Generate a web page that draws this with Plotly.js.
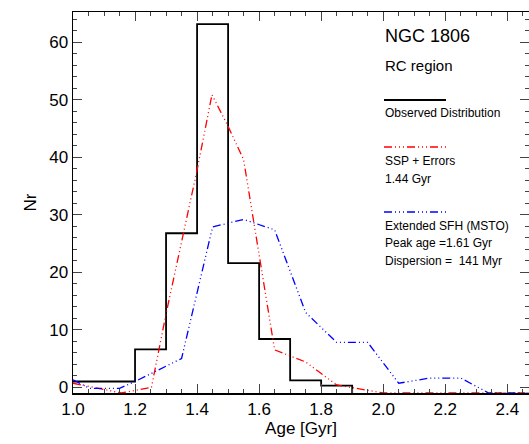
<!DOCTYPE html>
<html><head><script src="https://cdn.plot.ly/plotly-3.0.1.min.js"></script>
<style>body{margin:0}</style></head><body><div id="c" style="width:529px;height:444px"></div>
<script>
const histEdges=[1.0,1.2,1.3,1.4,1.5,1.6,1.7,1.8,1.9];
const histCounts=[1,6.6,26.8,63.2,21.6,8.4,1.2,0.3];
const sspX=[1.0,1.156,1.253,1.3,1.4,1.448,1.5,1.55,1.65,1.75,1.85,1.95,2.0,2.47];
const sspY=[0.7,-1,0,12.8,37.8,50.9,45.4,39.6,6.5,4.4,0.4,-0.5,-1,-1];
const sfhX=[1.0,1.054,1.15,1.2,1.35,1.4,1.45,1.55,1.65,1.75,1.85,1.95,2.05,2.15,2.25,2.34,2.47];
const sfhY=[1.3,-0.2,-0.2,1,5,16.3,27.9,29.2,27.4,13,7.8,7.8,0.7,1.6,1.6,-1,-1];
const hx=[],hy=[];
for(let i=0;i<histCounts.length;i++){hx.push(histEdges[i],histEdges[i+1]);hy.push(histCounts[i],histCounts[i]);}
hx.push(histEdges[histEdges.length-1]);hy.push(-1);
const traces=[
{x:hx,y:hy,mode:'lines',line:{color:'black',width:1.8},hoverinfo:'skip'},
{x:sspX,y:sspY,mode:'lines',line:{color:'red',width:1.3,dash:'8px,3px,1px,3px,1px,3px,1px,3px'}},
{x:sfhX,y:sfhY,mode:'lines',line:{color:'blue',width:1.3,dash:'8px,3px,1px,3px,1px,3px,1px,3px'}}
];
const F='Liberation Sans, Arial, sans-serif';
const ann=(t,y,s)=>({xref:'paper',yref:'paper',x:(383-73)/456,y:(393-y)/381,text:t,showarrow:false,xanchor:'left',yanchor:'middle',font:{family:F,size:s,color:'black'}});
const layout={width:529,height:444,margin:{l:73,r:0,t:12,b:51},showlegend:false,
plot_bgcolor:'white',paper_bgcolor:'white',font:{family:F,color:'black'},
xaxis:{range:[1.0,2.47],dtick:0.2,tickformat:'.1f',ticks:'inside',ticklen:9,mirror:'ticks',showline:true,linecolor:'black',linewidth:1.5,showgrid:false,zeroline:false,tickfont:{size:17},
 minor:{dtick:0.05,ticks:'inside',ticklen:4,showgrid:false},title:{text:'Age [Gyr]',font:{size:17},standoff:4}},
yaxis:{range:[-1,65.3],dtick:10,ticks:'inside',ticklen:9,mirror:'ticks',showline:true,linecolor:'black',linewidth:1.5,showgrid:false,zeroline:false,tickfont:{size:17},
 minor:{dtick:2,ticks:'inside',ticklen:4,showgrid:false},title:{text:'Nr',font:{size:17},standoff:8}},
shapes:[
{type:'line',xref:'paper',yref:'paper',x0:(384-73)/456,x1:(446-73)/456,y0:(393-100)/381,y1:(393-100)/381,line:{color:'black',width:2}},
{type:'line',xref:'paper',yref:'paper',x0:(384-73)/456,x1:(446-73)/456,y0:(393-147)/381,y1:(393-147)/381,line:{color:'red',width:1.3,dash:'8px,3px,1px,3px,1px,3px,1px,3px'}},
{type:'line',xref:'paper',yref:'paper',x0:(384-73)/456,x1:(446-73)/456,y0:(393-212)/381,y1:(393-212)/381,line:{color:'blue',width:1.3,dash:'8px,3px,1px,3px,1px,3px,1px,3px'}}
],
annotations:[ann('NGC 1806',36,18),ann('RC region',66,15),ann('Observed Distribution',113,12),
ann('SSP + Errors',161,12),ann('1.44 Gyr',179,12),ann('Extended SFH (MSTO)',226,12),
ann('Peak age =1.61 Gyr',243,12),ann('Dispersion =  141 Myr',261,12)]};
Plotly.newPlot('c',traces,layout,{staticPlot:true});
</script></body></html>
